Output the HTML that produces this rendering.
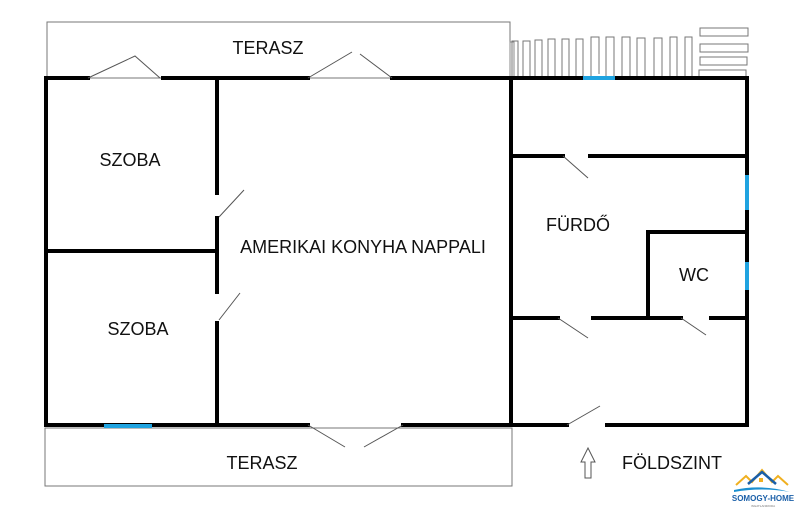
<!DOCTYPE html>
<html><head><meta charset="utf-8"><style>
html,body{margin:0;padding:0;background:#fff;width:800px;height:511px;overflow:hidden}
text{font-family:"Liberation Sans","DejaVu Sans",sans-serif;fill:#111}
</style></head><body>
<svg width="800" height="511" viewBox="0 0 800 511" xmlns="http://www.w3.org/2000/svg">
<!-- terraces -->
<rect x="47" y="22" width="463" height="56" fill="none" stroke="#777" stroke-width="1"/>
<rect x="510" y="42" width="4" height="36" fill="none" stroke="#888" stroke-width="1"/>
<rect x="45" y="428" width="467" height="58" fill="none" stroke="#777" stroke-width="1"/>
<!-- stairs -->
<g fill="none" stroke="#777" stroke-width="1">
<path d="M512 78V41H518V78M523 78V41H530V78M535 78V40H542V78M548 78V39H555V78M562 78V39H569V78M576 78V39H583V78M591 78V37H599V74M606 78V37H614V78M622 78V37H630V78M637 78V38H645V78M654 78V38H662V78M670 78V37H677V78M685 78V37H692V78"/>
<rect x="700" y="28" width="48" height="8"/>
<rect x="700" y="44" width="48" height="8"/>
<rect x="700" y="57" width="47" height="8"/>
<rect x="699" y="70" width="47" height="8"/>
</g>
<!-- walls -->
<g stroke="#000" stroke-width="4" fill="none" stroke-linecap="square">
<path d="M46 78H88M163 78H308M392 78H746"/>
<path d="M46 78V425"/>
<path d="M217 78V193M217 218V292M217 323V425"/>
<path d="M46 251H217"/>
<path d="M46 425H308M403 425H511"/>
<path d="M511 78V425"/>
<path d="M747 78V425"/>
<path d="M511 156H563M590 156H746"/>
<path d="M648 232V318M648 232H746"/>
<path d="M511 318H558M593 318H681M711 318H746"/>
<path d="M511 425H567M607 425H747"/>
</g>
<!-- windows -->
<g stroke="#1fa3e0" stroke-width="4">
<path d="M583 78H615"/>
<path d="M104 426H152"/>
<path d="M747 175V210M747 262V290"/>
</g>
<!-- doors -->
<g stroke="#555" stroke-width="1" fill="none">
<path d="M88 78L135 56L160 78"/>
<path d="M308 78L352 52M360 54L392 78"/>
<path d="M219 217L244 190M219 320L240 293"/>
<path d="M308 425L345 447M364 447L403 425"/>
<path d="M563 156L588 178"/>
<path d="M558 318L588 338M681 318L706 335"/>
<path d="M567 425L600 406"/>
<path d="M585 478V462H581L588 448L595 462H591V478Z"/>
</g>
<!-- labels -->
<g font-size="18">
<text x="268" y="54" text-anchor="middle">TERASZ</text>
<text x="130" y="166" text-anchor="middle">SZOBA</text>
<text x="138" y="335" text-anchor="middle">SZOBA</text>
<text x="363" y="253" text-anchor="middle">AMERIKAI KONYHA NAPPALI</text>
<text x="578" y="231" text-anchor="middle">FÜRDŐ</text>
<text x="694" y="281" text-anchor="middle">WC</text>
<text x="262" y="469" text-anchor="middle">TERASZ</text>
<text x="672" y="469" text-anchor="middle">FÖLDSZINT</text>
</g>
<!-- logo -->
<g>
<path d="M736 485L746 476L752 482L762 470L772 482L778 476L788 485" fill="none" stroke="#f0b020" stroke-width="2"/>
<path d="M748 484L762 472L776 484" fill="none" stroke="#1a5fa8" stroke-width="2.5"/>
<rect x="759" y="478" width="4" height="4" fill="#f0b020"/>
<path d="M734 490Q762 484 790 492Q762 487 734 492Z" fill="#1a8fd0"/>
<text x="763" y="501" font-size="8" font-weight="bold" text-anchor="middle" style="fill:#1a5fa8">SOMOGY-HOME</text>
<text x="763" y="507" font-size="3" text-anchor="middle" style="fill:#777">INGATLANIRODA</text>
</g>
</svg>
</body></html>
